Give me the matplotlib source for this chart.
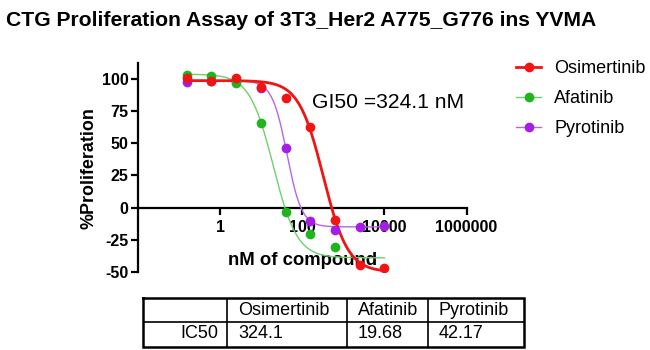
import numpy as np
import matplotlib
matplotlib.use("Agg")
import matplotlib.pyplot as plt
from matplotlib.lines import Line2D

plt.rcParams["font.family"] = ["Liberation Sans", "DejaVu Sans"]

# ---- data -------------------------------------------------------------
conc = [0.1526, 0.6104, 2.441, 9.766, 39.06, 156.25, 625.0, 2500.0, 10000.0]  # nM, 4-fold dilutions

osimertinib = [100.5, 98.5, 100.5, 93.6, 85.1, 62.4, -9.7, -44.4, -47.0]
afatinib = [102.5, 102.3, 96.7, 65.8, -3.7, -20.5, -30.8, None, None]
pyrotinib = [97.5, 98.5, 98.5, 93.0, 45.9, -10.2, -17.1, -14.8, -14.0]

drugs = ["Osimertinib", "Afatinib", "Pyrotinib"]
ic50 = [324.1, 19.68, 42.17]          # nM
top = [98.5, 103.5, 98.3]
bottom = [-50.0, -39.0, -15.0]
hill = [1.45, 1.5, 2.4]

point_colors = ["#f01414", "#1fb51f", "#a41ee6"]
line_colors = ["#f01414", "#6fd06f", "#b866e0"]
line_widths = [2.0, 1.0, 1.0]

y_ticks = [-50, -25, 0, 25, 50, 75, 100]
x_ticks = [1, 100, 10000, 1000000]
x_tick_labels = ["1", "100", "10000", "1000000"]

gi50_label = "GI50 =324.1 nM"

# ---- figure -------------------------------------------------------------
W, H = 650, 350
fig = plt.figure(figsize=(W / 100, H / 100), dpi=100)


def fx(px):
    return px / W


def fy(py):
    return 1 - py / H


ax_left, ax_right, ax_bottom, ax_top = 138, 466.6, 272, 63.2
ax = fig.add_axes([fx(ax_left), fy(ax_bottom), fx(ax_right - ax_left), (ax_bottom - ax_top) / H])
ax.set_xscale("log")
ax.set_xlim(0.01, 1e6)
ax.set_ylim(-50, 112)


def four_pl(x, t, b, c, h):
    return b + (t - b) / (1 + 10 ** ((np.log10(x) - np.log10(c)) * h))


xs = np.logspace(np.log10(conc[0]), np.log10(conc[-1]), 400)
series = [osimertinib, afatinib, pyrotinib]
order = [2, 1, 0]
for i in order:
    ax.plot(xs, four_pl(xs, top[i], bottom[i], ic50[i], hill[i]),
            color=line_colors[i], lw=line_widths[i], zorder=2 + (3 - i))
for i in order:
    xv = [c for c, v in zip(conc, series[i]) if v is not None]
    yv = [v for v in series[i] if v is not None]
    ax.plot(xv, yv, "o", color=point_colors[i], ms=7, mec="none", zorder=6 + (3 - i))

for s in ["top", "right"]:
    ax.spines[s].set_visible(False)
ax.spines["bottom"].set_position(("data", 0))
ax.spines["left"].set_linewidth(1.6)
ax.spines["bottom"].set_linewidth(1.6)

ax.set_yticks(y_ticks)
ax.set_yticklabels([str(v) for v in y_ticks])
ax.set_xticks(x_ticks)
ax.set_xticklabels(x_tick_labels)
ax.xaxis.set_minor_locator(matplotlib.ticker.NullLocator())
ax.tick_params(axis="both", length=5, width=1.6, labelsize=11.6, direction="out")
ax.tick_params(axis="y", pad=2)
ax.tick_params(axis="x", pad=4)
for lab in ax.get_xticklabels() + ax.get_yticklabels():
    lab.set_fontweight("bold")

ax.set_ylabel("%Proliferation", fontsize=12.9, fontweight="bold", labelpad=3)
ax.set_xlabel("nM of compound", fontsize=13.3, fontweight="bold")
ax.xaxis.set_label_coords(0.5, (-41 + 50) / 162, transform=ax.transAxes)
ax.xaxis.label.set_va("center")

fig.text(fx(6), fy(25.7), "CTG Proliferation Assay of 3T3_Her2 A775_G776 ins YVMA",
         fontsize=15.2, fontweight="bold", ha="left", va="baseline")
fig.text(fx(311.5), fy(108.3), gi50_label, fontsize=15.2, ha="left", va="baseline")

# legend
handles = [Line2D([0], [0], color=line_colors[i], lw=line_widths[i], marker="o",
                  ms=7, mfc=point_colors[i], mec="none") for i in range(3)]
fig.legend(handles, drugs, loc="upper left", bbox_to_anchor=(fx(511), fy(55)),
           frameon=False, fontsize=13, handlelength=1.35, handletextpad=0.75,
           labelspacing=0.72, borderaxespad=0, borderpad=0.3)

# ---- IC50 table -----------------------------------------------------------
tx0, tx1, ty0, ty1 = 143, 524, 298.3, 346.7
tab = fig.add_axes([fx(tx0), fy(ty1), fx(tx1 - tx0), (ty1 - ty0) / H])
tab.set_xlim(tx0, tx1)
tab.set_ylim(ty1, ty0)
tab.axis("off")
col_edges = [143, 227, 347, 428, 524]
row_mid = 322
tab.plot([tx0, tx1, tx1, tx0, tx0], [ty0, ty0, ty1, ty1, ty0], color="black", lw=1.8,
         clip_on=False, solid_joinstyle="miter")
tab.plot([tx0, tx1], [row_mid, row_mid], color="black", lw=1.2)
for cx in col_edges[1:-1]:
    tab.plot([cx, cx], [ty0, ty1], color="black", lw=1.2)
for j, name in enumerate(drugs):
    tab.text(col_edges[j + 1] + 11, 310.5, name, fontsize=13, ha="left", va="center")
    tab.text(col_edges[j + 1] + 11, 334, f"{ic50[j]:g}", fontsize=13, ha="left", va="center")
tab.text(col_edges[1] - 9, 334, "IC50", fontsize=13, ha="right", va="center")

fig.savefig("out.png", dpi=100, facecolor="white")
